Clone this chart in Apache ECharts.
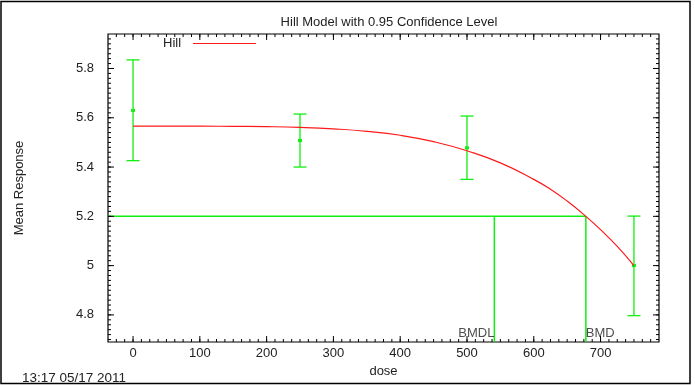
<!DOCTYPE html>
<html>
<head>
<meta charset="utf-8">
<script src="https://cdn.jsdelivr.net/npm/echarts@6/dist/echarts.min.js"></script>
<style>
html, body { margin: 0; padding: 0; background: #fff; }
#chart { width: 695px; height: 385px; }
</style>
</head>
<body>
<div id="chart"></div>
<script>
const doses = [0, 250, 500, 750]
const means = [5.63, 5.508, 5.478, 5.0]
const lower = [5.426, 5.40, 5.35, 4.797]
const upper = [5.835, 5.615, 5.607, 5.201]

// fitted Hill curve
const curveDose = [0, 100, 150, 200, 250, 300, 350, 400, 450, 500, 550, 600, 625, 650, 678, 700, 725, 750]
const curveResp = [5.566, 5.566, 5.565, 5.564, 5.561, 5.555, 5.545, 5.529, 5.503, 5.466, 5.417, 5.35, 5.31, 5.262, 5.2, 5.146, 5.078, 5.0]

// benchmark dose lines
const bmr = 5.2
const bmdl = 541
const bmd = 678

const xTicks = [0, 100, 200, 300, 400, 500, 600, 700]
const yTicks = [4.8, 5, 5.2, 5.4, 5.6, 5.8]

const xMin = -37.5, xMax = 787.5
const yMin = 4.69, yMax = 5.94

const green = '#11ee11'
const red = '#ff1a1a'
const font = 'Liberation Sans, Arial, sans-serif'

// minor tick positions (gnuplot style, inward on all four sides)
const xMinor = []
for (let v = -25; v < xMax; v += 12.5) xMinor.push(v)
const yMinor = []
for (let i = 0; 4.7 + i * 0.02 < yMax; i++) yMinor.push(+(4.7 + i * 0.02).toFixed(2))

const myChart = echarts.init(document.getElementById('chart'))

// tick marks drawn through the axis scales
function tickSeries (horizontal, data) {
    return {
        name: horizontal ? 'xticks' : 'yticks',
        type: 'custom',
        silent: true,
        clip: false,
        data: data,
        encode: { x: 0, y: 1 },
        renderItem: function (params, api) {
            const cs = params.coordSys
            const p = api.coord([api.value(0), api.value(1)])
            const len = api.value(2)
            const style = { stroke: '#000', lineWidth: 1 }
            let a, b
            if (horizontal) {
                a = { x1: p[0], y1: cs.y + cs.height, x2: p[0], y2: cs.y + cs.height - len }
                b = { x1: p[0], y1: cs.y, x2: p[0], y2: cs.y + len }
            } else {
                a = { x1: cs.x, y1: p[1], x2: cs.x + len, y2: p[1] }
                b = { x1: cs.x + cs.width, y1: p[1], x2: cs.x + cs.width - len, y2: p[1] }
            }
            return {
                type: 'group',
                children: [
                    { type: 'line', shape: a, style: style },
                    { type: 'line', shape: b, style: style }
                ]
            }
        },
        z: 5
    }
}

const xTickData = xTicks.map(v => [v, yMin, 6]).concat(xMinor.map(v => [v, yMin, 3]))
const yTickData = yTicks.map(v => [xMin, v, 6]).concat(yMinor.map(v => [xMin, v, 3]))

myChart.setOption({
    animation: false,
    title: {
        text: 'Hill Model with 0.95 Confidence Level',
        left: 384,
        textAlign: 'center',
        top: 11,
        textStyle: { fontSize: 13, fontWeight: 'normal', color: '#222', fontFamily: font }
    },
    legend: {
        data: ['Hill'],
        left: 163,
        top: 37,
        padding: 0,
        align: 'right',
        icon: 'rect',
        itemWidth: 63,
        itemHeight: 1.2,
        textStyle: { fontSize: 13, color: '#222', fontFamily: font, padding: [0, 7, 0, 0] }
    },
    grid: {
        left: 108,
        top: 34,
        right: 36,
        bottom: 43,
        show: true,
        borderColor: '#000',
        borderWidth: 1.2
    },
    xAxis: {
        type: 'value',
        min: xMin,
        max: xMax,
        name: 'dose',
        nameLocation: 'middle',
        nameGap: 20,
        nameTextStyle: { color: '#222', fontSize: 13, fontFamily: font },
        axisLine: { show: false, onZero: false },
        axisTick: { show: false },
        splitLine: { show: false },
        axisLabel: { customValues: xTicks, color: '#222', fontSize: 13, fontFamily: font, margin: 5 }
    },
    yAxis: {
        type: 'value',
        min: yMin,
        max: yMax,
        name: 'Mean Response',
        nameLocation: 'middle',
        nameRotate: 90,
        nameGap: 82,
        nameTextStyle: { color: '#222', fontSize: 13, fontFamily: font },
        axisLine: { show: false, onZero: false },
        axisTick: { show: false },
        splitLine: { show: false },
        axisLabel: { customValues: yTicks, color: '#222', fontSize: 13, fontFamily: font, margin: 14 }
    },
    graphic: [
        {
            type: 'rect',
            z: -10,
            silent: true,
            shape: { x: 1, y: 1.5, width: 689, height: 382 },
            style: { fill: null, stroke: '#000', lineWidth: 1.5 }
        },
        {
            type: 'text',
            left: 22,
            top: 371,
            style: { text: '13:17 05/17 2011', fill: '#222', fontSize: 13.5, fontFamily: font }
        }
    ],
    series: [
        {
            name: 'Hill',
            type: 'line',
            smooth: true,
            showSymbol: false,
            color: red,
            lineStyle: { color: red, width: 1.2 },
            data: curveDose.map((d, i) => [d, curveResp[i]]),
            z: 3
        },
        {
            name: 'bmd',
            type: 'line',
            showSymbol: false,
            color: green,
            lineStyle: { color: green, width: 1.5 },
            data: [[xMin, bmr], [bmd, bmr], [bmd, yMin]],
            z: 2
        },
        {
            name: 'bmdl',
            type: 'line',
            showSymbol: false,
            color: green,
            lineStyle: { color: green, width: 1.5 },
            data: [[bmdl, bmr], [bmdl, yMin]],
            z: 2
        },
        {
            name: 'labels',
            type: 'scatter',
            symbolSize: 0,
            data: [
                { value: [bmdl, yMin], label: { formatter: 'BMDL', align: 'right' } },
                { value: [bmd, yMin], label: { formatter: 'BMD', align: 'left' } }
            ],
            label: {
                show: true,
                position: 'top',
                distance: 2,
                color: '#222',
                fontSize: 13,
                fontFamily: font
            },
            z: 4
        },
        {
            name: 'data',
            type: 'custom',
            data: doses.map((d, i) => [d, lower[i], upper[i], means[i]]),
            encode: { x: 0, y: [1, 2] },
            renderItem: function (params, api) {
                const x = api.value(0)
                const top = api.coord([x, api.value(2)])
                const bot = api.coord([x, api.value(1)])
                const mid = api.coord([x, api.value(3)])
                const w = 6.5
                const style = { stroke: green, lineWidth: 1.3 }
                return {
                    type: 'group',
                    children: [
                        { type: 'line', shape: { x1: top[0], y1: top[1], x2: bot[0], y2: bot[1] }, style: style },
                        { type: 'line', shape: { x1: top[0] - w, y1: top[1], x2: top[0] + w, y2: top[1] }, style: style },
                        { type: 'line', shape: { x1: bot[0] - w, y1: bot[1], x2: bot[0] + w, y2: bot[1] }, style: style },
                        { type: 'rect', shape: { x: mid[0] - 2, y: mid[1] - 1.5, width: 4, height: 3 }, style: { fill: green } }
                    ]
                }
            },
            z: 3
        },
        tickSeries(true, xTickData),
        tickSeries(false, yTickData)
    ]
})
</script>
</body>
</html>
